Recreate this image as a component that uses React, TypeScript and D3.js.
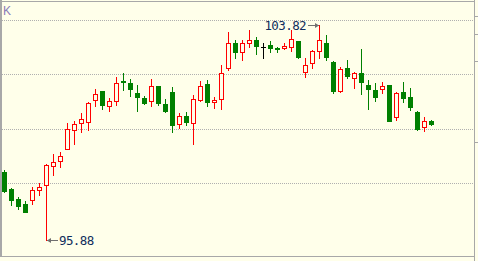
import React from "react";
import * as d3 from "d3";

const opens = [98.42,97.80,97.43,97.25,97.36,97.72,97.91,98.61,98.79,99.23,99.93,100.19,100.23,101.04,101.41,100.82,101.00,101.77,101.70,101.33,101.15,101.00,101.59,100.93,101.37,100.15,100.49,100.19,101.04,101.66,100.96,101.07,102.22,103.17,102.80,103.14,103.28,103.02,103.10,102.99,102.95,102.99,103.25,102.07,102.40,102.84,103.17,102.47,101.37,102.25,101.85,102.07,101.63,101.44,101.44,101.63,100.41,101.37,101.18,100.63,100.04,100.30];
const highs = [98.50,97.83,97.50,97.36,97.87,98.02,98.72,99.09,99.16,100.23,100.30,100.60,101.00,101.48,101.41,101.15,101.92,102.07,101.85,101.63,101.22,101.85,101.59,101.11,101.55,100.60,100.63,101.26,101.77,101.81,101.18,102.36,103.58,103.28,103.28,103.65,103.39,103.17,103.25,103.02,103.17,103.65,103.25,102.62,102.91,103.82,103.47,102.51,102.29,102.55,102.10,102.95,101.81,101.70,101.74,101.63,101.37,101.74,101.52,100.67,100.45,100.34];
const lows = [97.65,97.17,97.03,96.91,97.21,97.54,95.88,98.28,98.57,99.23,99.42,99.86,99.93,100.82,100.71,100.63,100.85,101.41,101.18,100.63,100.89,100.82,100.85,100.60,99.86,100.01,100.12,99.42,101.00,100.82,100.74,100.71,102.14,102.58,102.51,102.99,102.73,102.58,102.80,102.80,102.91,102.84,102.58,101.88,102.22,102.58,102.51,101.29,101.33,101.85,101.48,101.26,100.71,101.00,101.29,100.26,100.30,100.96,100.67,99.93,99.90,100.12];
const closes = [97.69,97.36,97.14,96.91,97.76,97.87,98.68,98.79,99.01,100.01,100.19,100.37,100.96,101.29,100.85,101.04,101.70,101.70,101.44,101.15,100.93,101.59,100.93,100.63,100.12,100.49,100.23,101.11,101.59,100.96,101.07,102.07,103.17,102.80,103.17,103.28,103.02,103.02,102.95,102.91,103.06,103.32,102.62,102.36,102.88,103.28,102.62,101.37,102.22,101.92,102.07,101.70,101.44,101.15,101.59,100.26,101.33,101.11,100.78,99.97,100.30,100.15];
const gridValues = [98, 100, 102, 104];
const panelLabel = "K";

const W = 478;
const H = 261;
const BG = "#ffffea";
const UP = "#ff0000";
const DOWN = "#008000";
const FLAT = "#000000";
const BORDER = "#a8a8a8";
const TEXT = "#0f2d5c";
const ARROW = "#707070";

export default function App() {
  const idx = d3.range(opens.length);
  const x = d3.scaleBand<number>().domain(idx).range([1, 1 + 7 * opens.length]).padding(0);
  const y = d3.scaleLinear().domain([98, 104]).range([183.5, 20.5]);
  const sy = (v: number) => Math.round(y(v));
  const cx = (i: number) => (x(i) as number) + x.bandwidth() / 2;

  const maxI = d3.maxIndex(highs);
  const minI = d3.minIndex(lows);
  const maxV = highs[maxI];
  const minV = lows[minI];

  const mono = "'DejaVu Sans Mono', 'Liberation Mono', monospace";

  return (
    <svg width={W} height={H} style={{ position: "absolute", left: 0, top: 0, display: "block" }}>
      <rect x={0} y={0} width={W} height={H} fill={BG} />
      {gridValues.map((v) => (
        <line key={v} x1={2} x2={474} y1={Math.floor(y(v)) + 0.5} y2={Math.floor(y(v)) + 0.5}
          stroke="#b0b0b0" strokeDasharray="1,1" strokeWidth={1} />
      ))}
      {/* frame */}
      <line x1={0} x2={475} y1={1.5} y2={1.5} stroke={BORDER} />
      <line x1={0} x2={475} y1={256.5} y2={256.5} stroke={BORDER} />
      <rect x={0} y={0} width={2} height={257} fill={BORDER} />
      <line x1={474.5} x2={474.5} y1={0} y2={H} stroke={BORDER} />
      {[16, 34, 61, 142].map((t) => (
        <line key={t} x1={475} x2={478} y1={t + 0.5} y2={t + 0.5} stroke={BORDER} />
      ))}
      <text x={3} y={15} fontFamily="'Liberation Sans', Arial, sans-serif" fontSize={12} fill="#8a7ab8">{panelLabel}</text>

      {idx.map((i) => {
        const o = opens[i], c = closes[i], h = highs[i], l = lows[i];
        const c0 = cx(i);
        const top = sy(Math.max(o, c));
        const bot = sy(Math.min(o, c));
        const hy = sy(h), ly = sy(l);
        if (o === c) {
          return (
            <g key={i}>
              <rect x={c0 - 0.5} y={hy} width={1} height={Math.max(1, ly - hy)} fill={FLAT} />
              <rect x={c0 - 2.5} y={top} width={5} height={1} fill={FLAT} />
            </g>
          );
        }
        if (c > o) {
          const hgt = Math.max(2, bot - top);
          return (
            <g key={i}>
              <rect x={c0 - 0.5} y={hy} width={1} height={Math.max(1, ly - hy)} fill={UP} />
              <rect x={c0 - 2} y={top + 0.5} width={4} height={hgt - 1} fill={BG} stroke={UP} strokeWidth={1} />
            </g>
          );
        }
        return (
          <g key={i}>
            <rect x={c0 - 0.5} y={hy} width={1} height={Math.max(1, ly - hy)} fill={DOWN} />
            <rect x={c0 - 2.5} y={top} width={5} height={Math.max(1, bot - top)} fill={DOWN} />
          </g>
        );
      })}

      {/* max annotation */}
      {(() => {
        const px = cx(maxI) - 0.5;
        const py = sy(maxV) + 0.5;
        return (
          <g>
            <line x1={px - 11} x2={px} y1={py} y2={py} stroke={ARROW} />
            <path d={`M${px},${py} l-4,-2.5 l0,5 z`} fill={ARROW} />
            <text x={px - 13} y={py + 4.5} textAnchor="end" fontFamily={mono} fontSize={12.5} letterSpacing={-0.6} fill={TEXT}>{maxV.toFixed(2)}</text>
          </g>
        );
      })()}
      {/* min annotation */}
      {(() => {
        const px = cx(minI) + 0.5;
        const py = sy(minV) - 0.5;
        return (
          <g>
            <line x1={px} x2={px + 11} y1={py} y2={py} stroke={ARROW} />
            <path d={`M${px},${py} l4,-2.5 l0,5 z`} fill={ARROW} />
            <text x={px + 12} y={py + 4.5} fontFamily={mono} fontSize={12.5} letterSpacing={-0.6} fill={TEXT}>{minV.toFixed(2)}</text>
          </g>
        );
      })()}
    </svg>
  );
}
